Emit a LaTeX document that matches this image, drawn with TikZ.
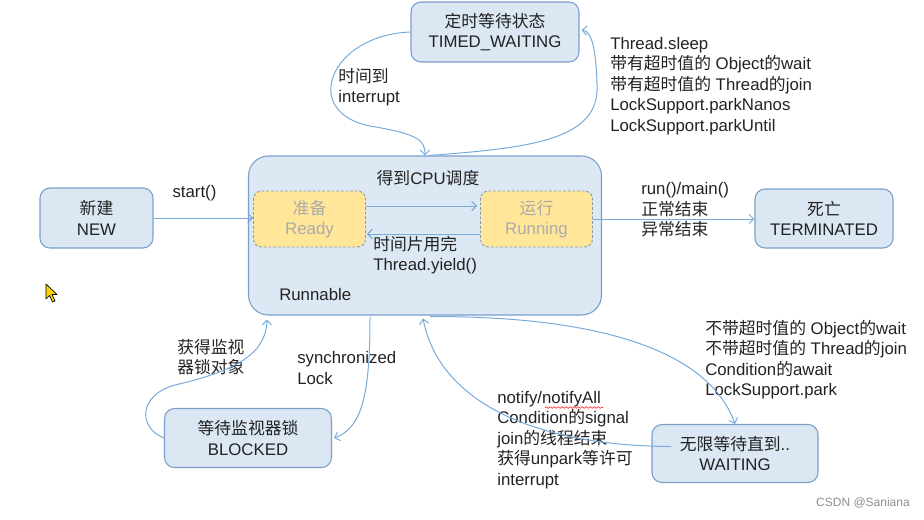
\documentclass[tikz,border=0pt]{standalone}
\usepackage{fontspec}
\setmainfont{Liberation Sans}
\newfontfamily\cjk{Noto Sans CJK SC}
\usetikzlibrary{arrows.meta,calc,decorations.pathmorphing}
\definecolor{boxfill}{HTML}{DCE7F4}
\definecolor{boxdraw}{HTML}{7B9FC9}
\definecolor{runfill}{HTML}{DDE8F5}
\definecolor{subfill}{HTML}{FFE699}
\definecolor{subdraw}{HTML}{8497B0}
\definecolor{subtext}{HTML}{ABABAB}
\definecolor{arrcol}{HTML}{78AADA}
\definecolor{txt}{HTML}{222222}
\newcommand\zh[1]{{\cjk #1}}
\newcommand\lblfont{\fontsize{12.6}{15.3}\selectfont}
\begin{document}
\begin{tikzpicture}[x=0.75pt,y=-0.75pt,
  every node/.style={font=\lblfont, text=txt},
  st/.style={draw=boxdraw, fill=boxfill, rounded corners=7.5pt, line width=0.8pt, align=center, inner sep=0pt},
  sub/.style={draw=subdraw, fill=subfill, dash pattern=on 2pt off 1.5pt, rounded corners=6pt, line width=0.7pt, align=center, inner sep=0pt, text=subtext, minimum width=84pt, minimum height=42pt},
  arr/.style={draw=arrcol, line width=0.75pt, -{Straight Barb[length=3.5pt,width=7pt]}},
  lab/.style={align=left, inner sep=0pt, anchor=west}]
\useasboundingbox (0,0) rectangle (924,519);
% boxes
\node[st, minimum width=126pt, minimum height=45pt] (timed) at (495,32) {\zh{定时等待状态}\\TIMED\_WAITING};
\node[st, fill=runfill, rounded corners=15pt, minimum width=264.75pt, minimum height=119.25pt] (runnable) at (425,235.5) {};
\node[sub] (ready) at (309.5,219) {\zh{准备}\\Ready};
\node[sub] (running) at (536.5,219) {\zh{运行}\\Running};
\node[st, minimum width=84.75pt, minimum height=45pt] (new) at (96.5,218) {\zh{新建}\\NEW};
\node[st, minimum width=103.5pt, minimum height=44.25pt] (term) at (824,218.5) {\zh{死亡}\\TERMINATED};
\node[st, minimum width=125.25pt, minimum height=44.25pt] (blocked) at (248,438) {\zh{等待监视器锁}\\BLOCKED};
\node[st, minimum width=124.5pt, minimum height=43.5pt] (waiting) at (735,453.5) {\zh{无限等待直到}..\\WAITING};
% labels
\node[inner sep=0pt] (lcpu) at (428,178) {\zh{得到}CPU\zh{调度}};
\node[lab] (lrunnable) at (279,294) {Runnable};
\node[lab] (lyield) at (373,255) {\zh{时间片用完}\\Thread.yield()};
\node[inner sep=0pt] (lstart) at (194.5,193) {start()};
\node[lab] (lend) at (641,210) {run()/main()\\\zh{正常结束}\\\zh{异常结束}};
\node[lab] (ltimeout) at (338,87) {\zh{时间到}\\interrupt};
\node[lab] (ltimed) at (610,86) {Thread.sleep\\\zh{带有超时值的} Object\zh{的}wait\\\zh{带有超时值的} Thread\zh{的}join\\LockSupport.parkNanos\\LockSupport.parkUntil};
\node[lab] (lgot) at (177,357) {\zh{获得监视}\\\zh{器锁对象}};
\node[lab] (lsync) at (297,368) {synchronized\\Lock};
\node[lab] (lwait) at (705,359.5) {\zh{不带超时值的} Object\zh{的}wait\\\zh{不带超时值的} Thread\zh{的}join\\Condition\zh{的}await\\LockSupport.park};
\node[lab] (lnotify) at (497,440) {notify/notifyAll\\Condition\zh{的}signal\\join\zh{的线程结束}\\\zh{获得}unpark\zh{等许可}\\interrupt};
\node[anchor=east, inner sep=0pt, text=black!45, font=\fontsize{9}{10}\selectfont] (wm) at (910,503) {CSDN @Saniana};
% spell-check underline
\draw[red!80, line width=0.5pt, decorate, decoration={snake, amplitude=0.6pt, segment length=3pt}] (545,407.5) -- (603,407.5);
% connectors
\draw[arr] (new.east) -- (new.east -| ready.west);
\draw[arr] ($(ready.east)+(0,-13)$) -- ($(running.west)+(-3,-13)$);
\draw[arr] ($(running.west)+(0,15)$) -- ($(ready.east)+(1,15)$);
\draw[arr] (running.east) -- (running.east -| term.west);
\draw[arr] (timed.west) .. controls (330,35) and (300,112) .. (370,126) .. controls (418,134) and (425,140) .. (runnable.north);
\draw[arr] ($(runnable.north)+(4,0)$) .. controls (530,148) and (600,140) .. (597,85) .. controls (596,50) and (592,31) .. ($(timed.east)+(2,-2)$);
\draw[arr] ($(runnable.south)+(-55,1)$) .. controls (370,395) and (362,428) .. ($(blocked.east)+(2,0)$);
\draw[arr] (blocked.west) .. controls (138,428) and (138,395) .. (175,385) .. controls (240,370) and (266,352) .. ($(runnable.south)+(-158,4)$);
\draw[arr] ($(runnable.south)+(5,1)$) .. controls (570,316) and (705,340) .. (waiting.north);
\draw[arr] ($(waiting.west)+(20,-7)$) .. controls (540,446) and (440,405) .. ($(runnable.south)+(-2,3)$);
% mouse cursor
\draw[black, fill=yellow!70!orange, line width=0.5pt, line join=round] (46,284) -- (46,299) -- (49.5,295.5) -- (52.5,302) -- (55,301) -- (52,294.5) -- (57,294.5) -- cycle;
\end{tikzpicture}
\end{document}
